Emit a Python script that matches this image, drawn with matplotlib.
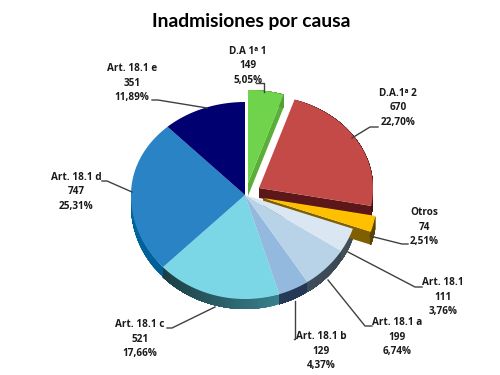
import numpy as np
import matplotlib
matplotlib.use('Agg')
import matplotlib.pyplot as plt
from matplotlib.colors import to_rgb

names = ['D.A 1ª 1', 'D.A.1ª 2', 'Otros', 'Art. 18.1', 'Art. 18.1 a',
         'Art. 18.1 b', 'Art. 18.1 c', 'Art. 18.1 d', 'Art. 18.1 e']
values = [149, 670, 74, 111, 199, 129, 521, 747, 351]
percents = ['5,05%', '22,70%', '2,51%', '3,76%', '6,74%',
            '4,37%', '17,66%', '25,31%', '11,89%']

top_colors = ['#6FD34B', '#C44A47', '#FFC000', '#DAE7F3', '#B8D2E8',
              '#93B9DE', '#7BD6E6', '#2983C5', '#000070']
side_colors = ['#5BAF38', '#5C1818', '#7F5F00', '#55666F', '#4A5A6A',
               '#2A3F5F', '#2A5F68', '#00507F', '#000050']

# Pie geometry, in pixels of the figure
cx, cy = 245, 195
rx, ry_up, ry_down = 114, 93, 104
depth = 10
offsets = {0: (3, -12), 1: (14, -7), 2: (18, 3)}
cut_depth = {0: 13, 1: 10, 2: 13}

# text centre, then the leader line points
label_pos = [(248, 66), (398, 108), (424, 227), (443, 297), (397, 337),
             (321, 351), (140, 339), (76, 192), (132, 83)]
leaders = [[(256, 83), (264, 83), (264, 92)],
           [(378, 127), (370, 127), (352, 138)],
           [(408, 244), (402, 244), (370, 236)],
           [(422, 287), (415, 287), (348, 252)],
           [(372, 326), (365, 326), (328, 280)],
           [(294, 339), (295, 339), (295, 301)],
           [(167, 328), (172, 328), (215, 307)],
           [(102, 181), (107, 181), (132, 192)],
           [(152, 100), (158, 100), (207, 108)]]


def project(t):
    x = rx * np.sin(t)
    c = np.cos(t)
    y = -c * np.where(c > 0, ry_up, ry_down)
    return x, y


def shade(color, f):
    return tuple(min(1, v * f) for v in to_rgb(color))


fig = plt.figure(figsize=(5, 3.75), dpi=100)
ax = fig.add_axes([0, 0, 1, 1])
ax.set_xlim(0, 500)
ax.set_ylim(375, 0)
ax.axis('off')

fractions = np.array(values) / sum(values)
edges = np.concatenate([[0], np.cumsum(fractions)]) * 2 * np.pi


def draw_slice(i):
    a, b = edges[i], edges[i + 1]
    dx, dy = offsets.get(i, (0, 0))
    t = np.linspace(a, b, 60)
    x, y = project(t)
    x, y = x + cx + dx, y + cy + dy
    d = cut_depth.get(i, depth)

    # cut faces of the exploded slices
    if i in offsets:
        ax.fill([cx + dx, x[-1], x[-1], cx + dx],
                [cy + dy, y[-1], y[-1] + d, cy + dy + d],
                color=side_colors[i], lw=0, zorder=2)

    # rim: painted over itself from one end so there are no seams
    keep = (np.cos(t) < 0.05) | (i in offsets)
    xr, yr = x[keep], y[keep]
    for j in range(len(xr) - 1):
        f = 1.25 - 0.5 * (xr[j] - (cx - rx)) / (2 * rx)
        if i == 6:
            f = 1.35 - 0.7 * (xr[j] - xr[0]) / (xr[-1] - xr[0])
        ax.fill(np.r_[xr[j:], xr[j:][::-1]], np.r_[yr[j:], yr[j:][::-1] + d],
                color=shade(side_colors[i], f), lw=0, zorder=2)

    ax.fill(np.r_[cx + dx, x], np.r_[cy + dy, y], color=top_colors[i], lw=0, zorder=3)


for i in [6, 7, 8, 5, 4, 3, 2, 1, 0]:
    draw_slice(i)

for i, pts in enumerate(leaders):
    xs, ys = zip(*pts)
    ax.plot(xs, ys, color='#404040', lw=1, zorder=4)
    lx, ly = label_pos[i]
    ax.text(lx, ly, f'{names[i]}\n{values[i]}\n{percents[i]}', ha='center', va='center',
            fontsize=7.2, fontweight='bold', family='Open Sans', color='#1A1A1A',
            linespacing=1.38, zorder=5)

ax.text(251, 22, 'Inadmisiones por causa', ha='center', va='center',
        fontsize=13.9, fontweight='bold', family='Lato', color='black')

fig.savefig('out.png', dpi=100)
